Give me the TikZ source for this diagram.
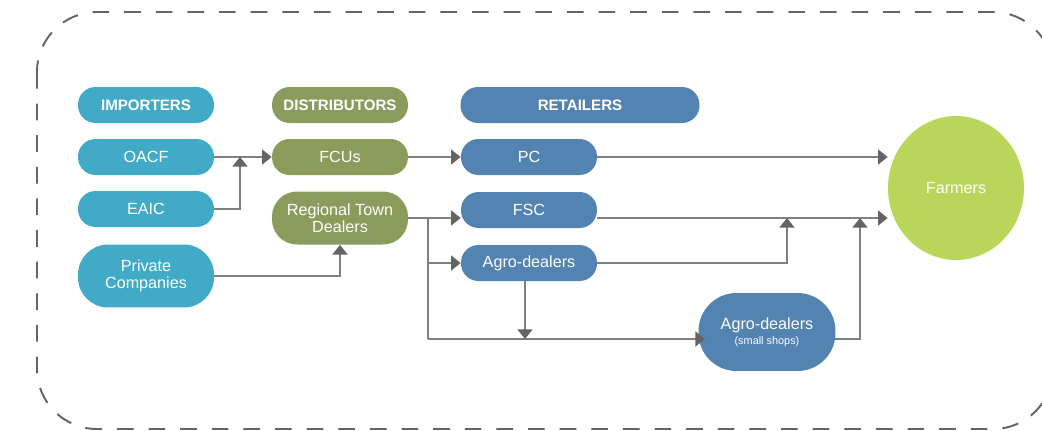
\documentclass[tikz,border=0pt]{standalone}
\usepackage{fontspec}
\setmainfont{Liberation Sans}
\usetikzlibrary{arrows.meta, shapes.geometric}
\definecolor{impTeal}{RGB}{65,171,199}
\definecolor{distOlive}{RGB}{139,155,91}
\definecolor{retBlue}{RGB}{83,131,176}
\definecolor{farmGreen}{RGB}{185,214,90}
\definecolor{lineGray}{RGB}{128,128,128}
\definecolor{tipGray}{RGB}{100,100,100}
\definecolor{frameGray}{RGB}{100,100,100}

\begin{document}
\begin{tikzpicture}[x=0.02cm, y=-0.02cm,
    >={Triangle[length=5.5pt, width=8.5pt, color=tipGray]},
    box/.style={rounded corners=0.35cm, minimum width=2.72cm, minimum height=0.72cm,
        inner sep=0pt, text=white, align=center, font=\fontsize{9.2}{9.6}\selectfont},
    imp/.style={box, fill=impTeal},
    dist/.style={box, fill=distOlive},
    ret/.style={box, fill=retBlue},
    hdr/.style={font=\bfseries\fontsize{8.6}{10}\selectfont},
    link/.style={->, draw=lineGray, line width=1.1pt}]
    \useasboundingbox (0,0) rectangle (1042,430);

    % Dashed frame
    \draw[frameGray, line width=1.1pt, dash pattern=on 9.5pt off 8.5pt, rounded corners=1.2cm]
        (37,12) rectangle (1053,429);

    % Importers
    \node[imp, hdr] (importers) at (146,105) {IMPORTERS};
    \node[imp] (oacf) at (146,157) {OACF};
    \node[imp] (eaic) at (146,209) {EAIC};
    \node[imp, minimum height=1.26cm, rounded corners=0.6cm] (private) at (146,276) {Private\\Companies};

    % Distributors
    \node[dist, hdr] (distributors) at (340,105) {DISTRIBUTORS};
    \node[dist] (fcus) at (340,157) {FCUs};
    \node[dist, minimum height=1.06cm, rounded corners=0.5cm] (rtd) at (340,218) {Regional Town\\Dealers};

    % Retailers
    \node[ret, hdr, minimum width=4.78cm] (retailers) at (580,105) {RETAILERS};
    \node[ret] (pc) at (529,157) {PC};
    \node[ret] (fsc) at (529,210) {FSC};
    \node[ret] (agro) at (529,263) {Agro-dealers};
    \node[ret, minimum width=2.74cm, minimum height=1.56cm, rounded corners=0.76cm] (shops) at (767,332)
        {Agro-dealers\\[-1pt]{\fontsize{6.2}{7}\selectfont (small shops)}};

    \node[ellipse, fill=farmGreen, minimum width=2.72cm, minimum height=2.88cm, inner sep=0pt,
        text=white, font=\fontsize{9.2}{9.6}\selectfont] (farmers) at (956,188) {Farmers};

    % Junctions and free ends
    \coordinate (j1) at (240,157);
    \coordinate (split) at (428,218);
    \coordinate (low) at (428,339);
    \coordinate (j2) at (525,339);
    \coordinate (j3) at (787,218);
    \coordinate (j4) at (860,218);
    \coordinate (shopsIn) at (705,339);
    \coordinate (shopsOut) at (835,339);

    % Importers to distributors
    \draw[link] (oacf) -- (fcus);
    \draw[link] (eaic.east) -| (j1);
    \draw[link] (private.east) -| (rtd.south);

    % Distributors to retailers
    \draw[link] (fcus) -- (pc);
    \draw[link] (rtd.east) -- (fsc.west |- rtd.east);
    \draw[draw=lineGray, line width=1.1pt] (split) -- (low);
    \draw[link] (split |- agro.west) -- (agro.west);
    \draw[link] (low) -- (shopsIn);
    \draw[link] (j2 |- agro.south) -- (j2);

    % Retailers to farmers
    \draw[link] (pc.east) -- (pc.east -| farmers.west);
    \draw[link] (fsc.east |- rtd.east) -- (rtd.east -| farmers.west);
    \draw[link] (agro.east) -| (j3);
    \draw[link] (shopsOut) -| (j4);
\end{tikzpicture}
\end{document}
